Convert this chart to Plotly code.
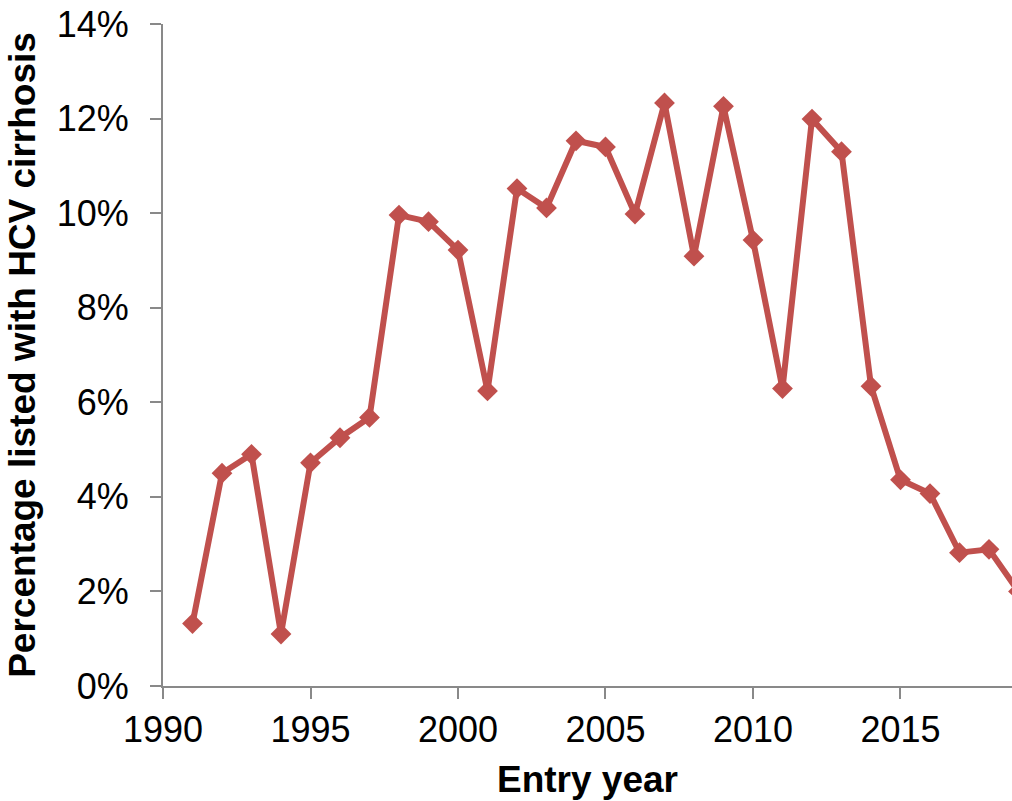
import plotly.graph_objects as go

# Share of waitlist entries listed with HCV cirrhosis, by entry year (%)
years = list(range(1991, 2020))
pct_hcv = [1.32, 4.50, 4.90, 1.10, 4.72, 5.25, 5.68, 9.96, 9.82, 9.22,
           6.24, 10.52, 10.11, 11.53, 11.40, 9.98, 12.33, 9.09, 12.26, 9.43,
           6.29, 11.99, 11.30, 6.34, 4.36, 4.07, 2.82, 2.89, 2.00]

x_ticks = [1990, 1995, 2000, 2005, 2010, 2015]
y_ticks = [0, 2, 4, 6, 8, 10, 12, 14]
y_tick_labels = [f"{v}%" for v in y_ticks]

RED = "#C0504D"
AXIS = "#898989"
FONT = "Liberation Sans, Arial, sans-serif"

fig = go.Figure(
    go.Scatter(
        x=years,
        y=pct_hcv,
        mode="lines+markers",
        line=dict(color=RED, width=6),
        marker=dict(symbol="diamond", size=16, color=RED),
        cliponaxis=True,
        showlegend=False,
    )
)

fig.update_layout(
    width=1012,
    height=801,
    margin=dict(l=163, r=0, t=24, b=115),
    paper_bgcolor="white",
    plot_bgcolor="white",
    font=dict(family=FONT, color="black", size=36),
)

fig.update_xaxes(
    range=[1990, 2018.78],
    tickvals=x_ticks,
    ticks="outside",
    ticklen=11,
    tickwidth=2,
    tickcolor=AXIS,
    showline=True,
    linecolor=AXIS,
    linewidth=2,
    showgrid=False,
    zeroline=False,
    tickfont=dict(size=36),
    title=dict(text="<b>Entry year</b>", font=dict(size=37), standoff=17),
)

fig.update_yaxes(
    range=[0, 14],
    tickvals=y_ticks,
    ticktext=y_tick_labels,
    ticks="outside",
    ticklen=11,
    tickwidth=2,
    tickcolor=AXIS,
    showline=True,
    linecolor=AXIS,
    linewidth=2,
    showgrid=False,
    zeroline=False,
    tickfont=dict(size=36),
    ticklabelstandoff=14,
    title=dict(text="<b>Percentage listed with HCV cirrhosis</b>", font=dict(size=37), standoff=10),
)

fig.write_html("out.html")
